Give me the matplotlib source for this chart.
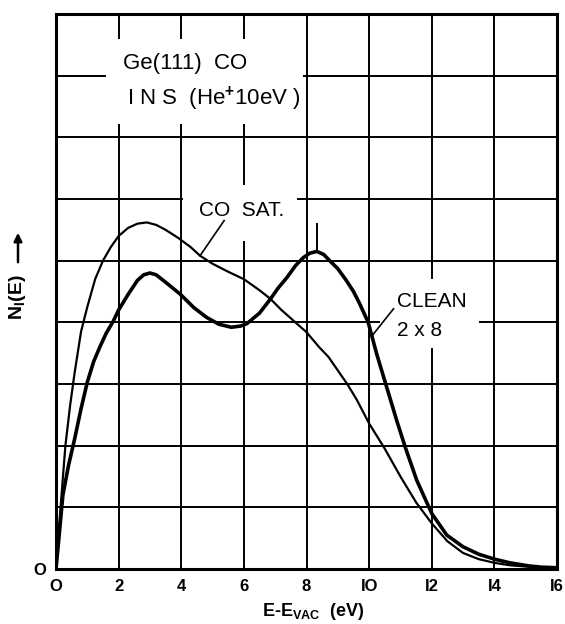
import matplotlib
matplotlib.use("Agg")
import matplotlib.pyplot as plt
from matplotlib.patches import Rectangle, FancyArrowPatch

plt.rcParams['font.family'] = ['Liberation Sans', 'DejaVu Sans']
plt.rcParams['mathtext.fontset'] = 'custom'
plt.rcParams['mathtext.rm'] = 'Liberation Sans'
plt.rcParams['mathtext.it'] = 'Liberation Sans'
plt.rcParams['mathtext.bf'] = 'Liberation Sans:bold'

# E - E_vac (eV) and N_I(E) in grid units
co_x = [0, 0.1, 0.2, 0.3, 0.45, 0.6, 0.8, 1.0, 1.25, 1.5, 1.75, 2.0, 2.3, 2.6, 2.9,
        3.2, 3.5, 3.9, 4.3, 4.6, 5.0, 5.5, 6.0, 6.5, 6.85, 7.2, 7.6, 8.0, 8.4, 8.7,
        9.0, 9.3, 9.6, 10.0, 10.5, 11.0, 11.5, 12.0, 12.5, 13.0, 13.5, 14.0, 14.5,
        15.0, 15.5, 16.0]
co_y = [0, 0.7, 1.35, 2.0, 2.65, 3.2, 3.85, 4.25, 4.7, 5.0, 5.22, 5.40, 5.53, 5.6, 5.62,
        5.58, 5.5, 5.37, 5.22, 5.08, 4.95, 4.82, 4.70, 4.52, 4.38, 4.2, 4.02, 3.84, 3.6, 3.44,
        3.22, 3.0, 2.75, 2.36, 1.95, 1.5, 1.08, 0.74, 0.45, 0.26, 0.16, 0.1, 0.06,
        0.04, 0.02, 0.01]

clean_x = [0, 0.12, 0.22, 0.4, 0.6, 0.8, 1.0, 1.2, 1.4, 1.6, 1.83, 2.0, 2.3, 2.6, 2.8,
           3.0, 3.2, 3.5, 3.96, 4.4, 4.81, 5.2, 5.6, 5.9, 6.1, 6.5, 6.85, 7.1, 7.38,
           7.65, 7.9, 8.1, 8.33, 8.55, 8.74, 9.0, 9.27, 9.5, 9.7, 9.97, 10.24, 10.56,
           10.88, 11.15, 11.52, 12.0, 12.48, 13.0, 13.5, 14.0, 14.5, 15.1, 15.5, 16.0]
clean_y = [0, 0.65, 1.2, 1.68, 2.12, 2.6, 3.03, 3.36, 3.6, 3.82, 4.02, 4.2, 4.45, 4.68, 4.77,
           4.80, 4.77, 4.65, 4.46, 4.24, 4.08, 3.97, 3.92, 3.94, 3.98, 4.15, 4.38, 4.56, 4.73,
           4.92, 5.05, 5.12, 5.15, 5.10, 5.0, 4.87, 4.68, 4.5, 4.3, 4.0, 3.49, 2.95,
           2.41, 1.98, 1.44, 0.9, 0.55, 0.36, 0.24, 0.16, 0.1, 0.05, 0.03, 0.02]

x_ticks = [0, 2, 4, 6, 8, 10, 12, 14, 16]
x_ticklabels = ['O', '2', '4', '6', '8', 'IO', 'I2', 'I4', 'I6']
y_grid = list(range(10))

# label positions (data units)
title_lines = ["Ge(111)  CO", "I N S  (He$^{\\mathbf{+}}$10eV )"]
co_label = (4.57, 5.81)
co_leader = [(5.37, 5.65), (4.6, 5.08)]
clean_label = [(10.9, 4.34, "CLEAN"), (10.9, 3.87, "2 x 8")]
clean_leader = [(10.78, 4.22), (10.09, 3.78)]
peak_mark = (8.33, 5.15, 5.6)

fig = plt.figure(figsize=(5.65, 6.24), dpi=100)
ax = fig.add_axes([56 / 565, 1 - 569 / 624, 501 / 565, 555 / 624])
ax.set_xlim(0, 16)
ax.set_ylim(0, 9)

ax.set_xticks(x_ticks)
ax.set_xticklabels(x_ticklabels, fontsize=12, fontweight='bold')
ax.set_yticks(y_grid)
ax.set_yticklabels(['O'] + [''] * (len(y_grid) - 1), fontsize=12, fontweight='bold')
ax.tick_params(length=0, pad=7)
ax.set_axisbelow(True)
ax.grid(True, color='black', lw=1.4)
for s in ax.spines.values():
    s.set_linewidth(2.2)

# white areas behind the labels, hiding grid lines
for (x0, y0, w, h) in [(1.6, 7.22, 6.3, 1.38), (4.05, 5.32, 3.65, 0.9), (10.35, 3.58, 3.15, 1.13)]:
    ax.add_patch(Rectangle((x0, y0), w, h, facecolor='white', edgecolor='none', zorder=1))

ax.plot(co_x, co_y, color='black', lw=1.6, zorder=3, solid_joinstyle='round')
ax.plot(clean_x, clean_y, color='black', lw=2.6, zorder=3, solid_joinstyle='round')

ax.plot([peak_mark[0], peak_mark[0]], [peak_mark[1], peak_mark[2]], color='black', lw=1.4, zorder=3)
ax.plot([p[0] for p in co_leader], [p[1] for p in co_leader], color='black', lw=1.2, zorder=3)
ax.plot([p[0] for p in clean_leader], [p[1] for p in clean_leader], color='black', lw=1.2, zorder=3)

ax.text(2.14, 8.2, title_lines[0], fontsize=16, va='center', ha='left', zorder=4)
ax.text(2.27, 7.62, title_lines[1], fontsize=16, va='center', ha='left', zorder=4)
ax.text(co_label[0], co_label[1], "CO  SAT.", fontsize=15, va='center', ha='left', zorder=4)
for (tx, ty, s) in clean_label:
    ax.text(tx, ty, s, fontsize=15, va='center', ha='left', zorder=4)

# axis labels
fig.text(18 / 565, 1 - 297 / 624, "N$_\\mathbf{I}$(E)", rotation=90, fontsize=14,
         fontweight='bold', ha='center', va='center')
fig.add_artist(FancyArrowPatch((18 / 565, 1 - 265 / 624), (18 / 565, 1 - 230 / 624),
               transform=fig.transFigure, arrowstyle='-|>', mutation_scale=12, lw=1.8, color='black'))
fig.text(313 / 565, 1 - 612 / 624, "E-E$_\\mathbf{VAC}$  (eV)", fontsize=13,
         fontweight='bold', ha='center', va='center')

fig.savefig("out.png", dpi=100)
